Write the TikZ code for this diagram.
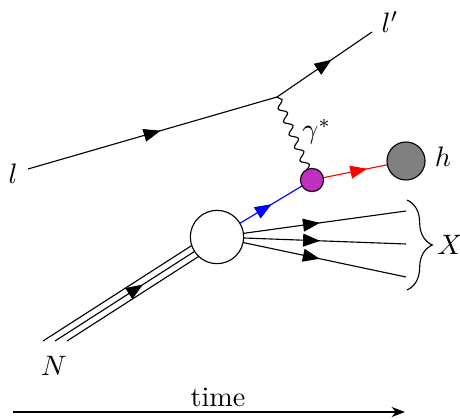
\documentclass[tikz,border=0pt]{standalone}
\usetikzlibrary{arrows.meta,decorations.markings,decorations.pathmorphing,decorations.pathreplacing,backgrounds}
\definecolor{blobmag}{RGB}{192,48,192}
\tikzset{
  fermion/.style={postaction={decorate},decoration={markings,mark=at position 0.5 with {\arrow[xshift=3pt]{Triangle[length=6pt,width=4.6pt]}}}},
  photon/.style={decorate,decoration={snake,amplitude=1.3pt,segment length=5pt}},
  blob/.style={circle,draw,inner sep=0pt},
}
\begin{document}
\begin{tikzpicture}
    \useasboundingbox (0,0) rectangle (5.75,5.225);
    % lepton vertex
    \coordinate (lin) at (0.35,3.1125);
    \coordinate (v1) at (3.4625,4.0125);
    \coordinate (lout) at (4.65,4.825);
    \node (llab) at (0.1625,3.05) {$l$};
    \node (lplab) at (4.875,4.95) {$l'$};
    % blobs
    \node[blob,fill=blobmag,minimum size=0.29cm] (qv) at (3.9,2.975) {};
    \node[blob,fill=gray,minimum size=0.475cm] (hb) at (5.075,3.2125) {};
    \node[blob,fill=white,minimum size=0.667cm] (had) at (2.7125,2.2625) {};
    \node (glab) at (3.96,3.575) {$\gamma^*$};
    \node (hlab) at (5.5375,3.2625) {$h$};
    % remnant
    \coordinate (x1) at (5.075,2.5875);
    \coordinate (x2) at (5.075,2.175);
    \coordinate (x3) at (5.075,1.7625);
    \coordinate (btop) at (5.0875,2.725);
    \coordinate (bbot) at (5.0875,1.6);
    \node (xlab) at (5.625,2.1625) {$X$};
    % nucleon
    \coordinate (nin) at (0.6875,0.9625);
    \node (nlab) at (0.675,0.65) {$N$};

    \begin{pgfonlayer}{background}
    \draw[fermion] (lin) -- (v1);
    \draw[fermion] (v1) -- (lout);
    \draw[photon] (v1) -- (qv.center);
    \draw[blue,fermion] (had.center) -- (qv.center);
    \draw[red,fermion] (qv.center) -- (hb.center);
    \draw[fermion] (had.center) -- (x1);
    \draw[fermion] (had.center) -- (x2);
    \draw[fermion] (had.center) -- (x3);
    \draw ([xshift=-0.15cm]nin) -- ([xshift=-0.15cm]had.center);
    \draw[fermion] (nin) -- (had.center);
    \draw ([xshift=0.15cm]nin) -- ([xshift=0.15cm]had.center);
    \end{pgfonlayer}

    \draw[decorate,decoration={brace,amplitude=9pt}] (btop) -- (bbot);

    % time axis
    \coordinate (t0) at (0.1625,0.075);
    \coordinate (t1) at (5.0625,0.075);
    \draw[-Stealth] (t0) -- (t1);
    \node (tlab) at (2.725,0.2625) {time};
\end{tikzpicture}
\end{document}
